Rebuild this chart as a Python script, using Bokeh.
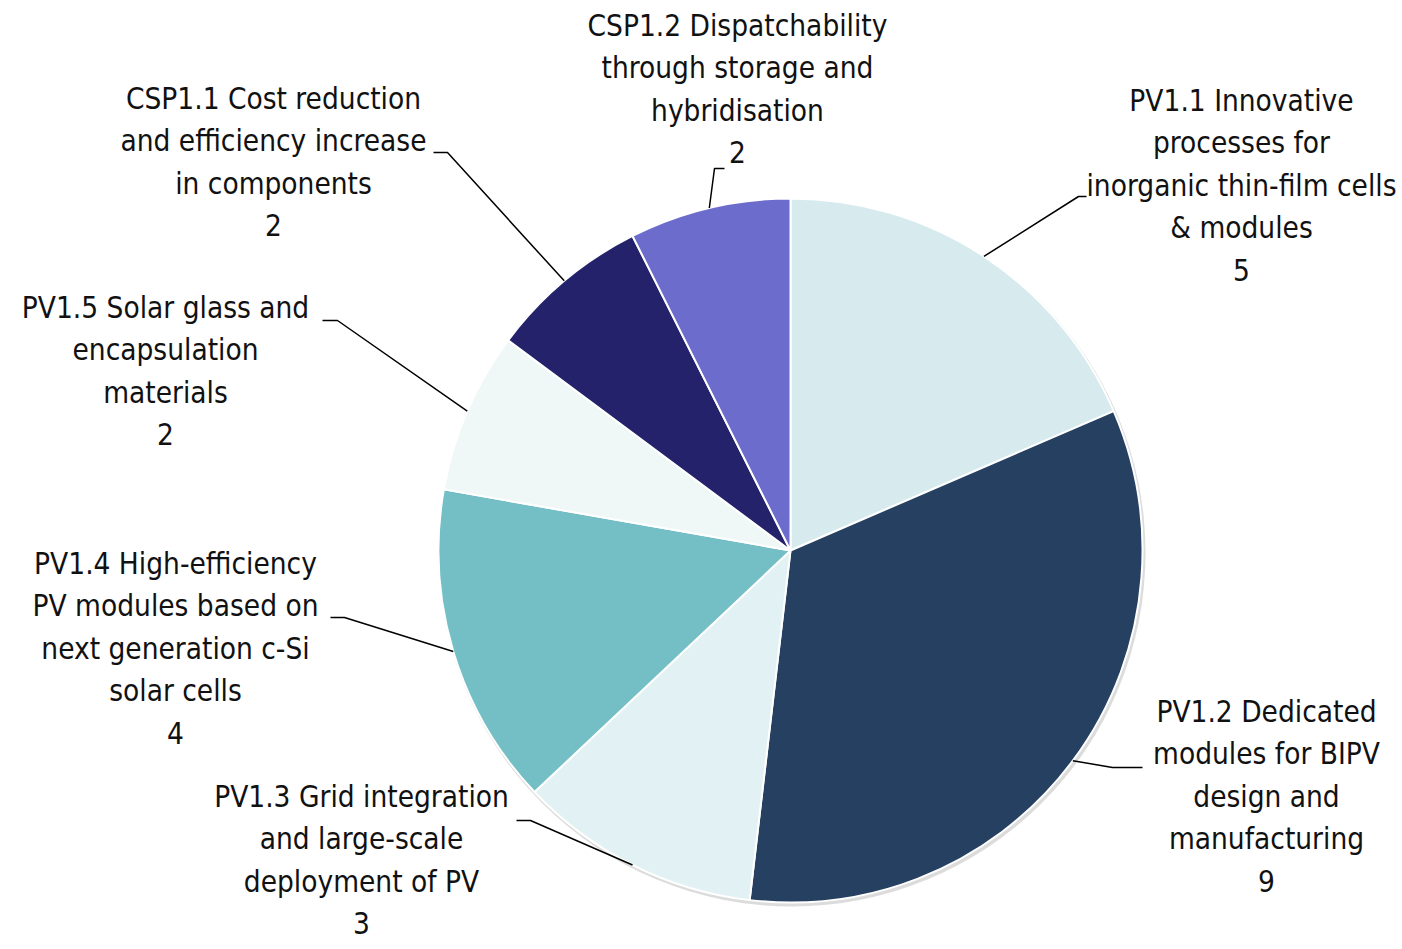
import numpy as np
from bokeh.plotting import figure
from bokeh.models import Range1d
from bokeh.core.properties import value
from bokeh.embed import file_html
from bokeh.resources import INLINE

# ---- data ----
categories = [
    "PV1.1 Innovative\nprocesses for\ninorganic thin-film cells\n& modules",
    "PV1.2 Dedicated\nmodules for BIPV\ndesign and\nmanufacturing",
    "PV1.3 Grid integration\nand large-scale\ndeployment of PV",
    "PV1.4 High-efficiency\nPV modules based on\nnext generation c-Si\nsolar cells",
    "PV1.5 Solar glass and\nencapsulation\nmaterials",
    "CSP1.1 Cost reduction\nand efficiency increase\nin components",
    "CSP1.2 Dispatchability\nthrough storage and\nhybridisation",
]
counts = [5, 9, 3, 4, 2, 2, 2]
colors = ["#D7EBEE", "#264062", "#E2F1F3", "#73BFC5", "#F0F7F7", "#23226A", "#6C6CCC"]

# ---- layout (reference pixel coords) ----
CX, CY, R = 790, 550, 352
label_xy = [(1241, 185), (1266, 796), (361, 860), (175, 648), (165, 371), (273, 162), (737, 89)]
elbows = [
    [(1078, 196), (1086, 196)],
    [(1112, 767), (1142, 767)],
    [(530, 820), (516, 820)],
    [(344, 617), (330, 617)],
    [(337, 320), (322, 320)],
    [(447, 152), (433, 152)],
    [(714, 168), (724, 168)],
]

W, H = 1400, 947


def tx(X):
    return X - CX


def ty(Y):
    return CY - Y


p = figure(width=W, height=H, output_backend="svg", toolbar_location=None,
           x_range=Range1d(tx(0), tx(W)), y_range=Range1d(ty(H), ty(0)),
           min_border=0)
p.axis.visible = False
p.grid.visible = False
p.outline_line_color = None

vals = np.array(counts, dtype=float)
fr = vals / vals.sum()
ends_cum = np.cumsum(fr)
starts_cum = ends_cum - fr
start_ang = np.pi / 2 - starts_cum * 2 * np.pi
end_ang = np.pi / 2 - ends_cum * 2 * np.pi
mid_ang = (start_ang + end_ang) / 2

# subtle shadow
p.circle(x=[1.5], y=[-2.5], radius=R + 1.5, fill_color="#9a9a9a", fill_alpha=0.35, line_color=None)

p.wedge(x=[0] * len(vals), y=[0] * len(vals), radius=R,
        start_angle=list(start_ang), end_angle=list(end_ang), direction="clock",
        fill_color=colors, line_color="white", line_width=2)

# leader lines
for i in range(len(vals)):
    sx = R * np.cos(mid_ang[i])
    sy = R * np.sin(mid_ang[i])
    xs = [sx] + [tx(e[0]) for e in elbows[i]]
    ys = [sy] + [ty(e[1]) for e in elbows[i]]
    p.line(xs, ys, line_color="black", line_width=1.5)

# labels
texts = [f"{c}\n{n}" for c, n in zip(categories, counts)]
p.text(x=[tx(l[0]) for l in label_xy], y=[ty(l[1]) for l in label_xy], text=texts,
       text_align="center", text_baseline="middle",
       text_font=value("'Liberation Sans Narrow', 'DejaVu Sans Condensed', 'DejaVu Sans'"),
       text_font_size="29.5px", text_color="#111111", text_line_height=1.25)

open("out.html", "w").write(file_html(p, INLINE))
